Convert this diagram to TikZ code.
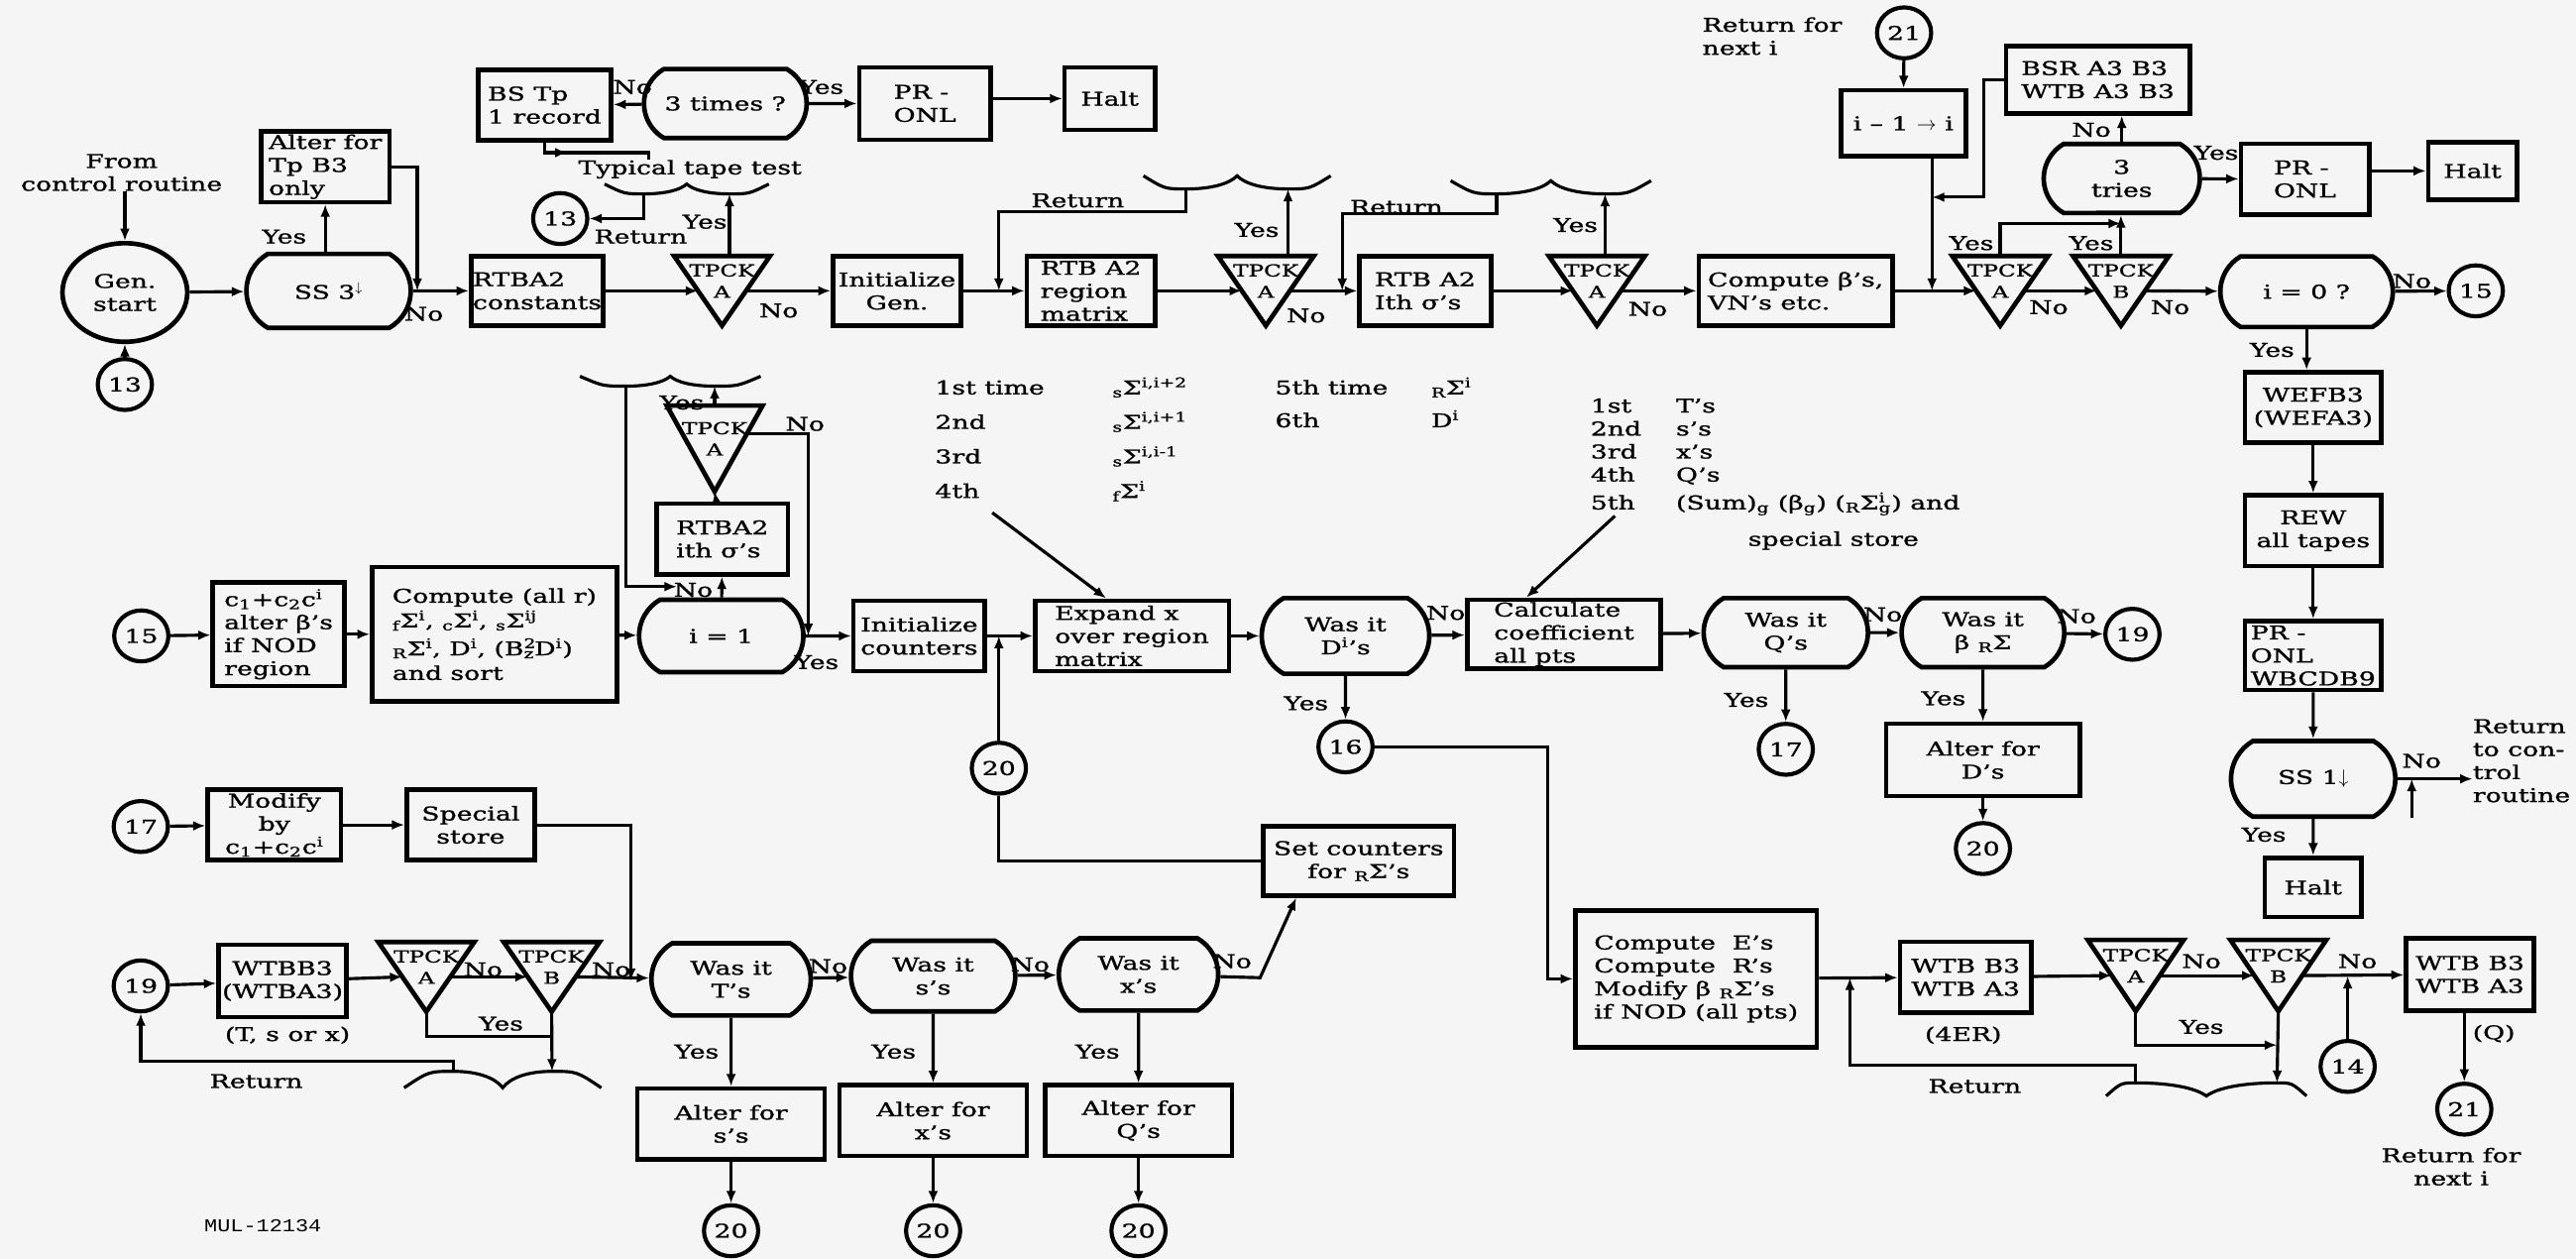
\documentclass[tikz,border=0pt]{standalone}
\usepackage{fontspec}
\setmainfont[FakeStretch=1.4, FakeBold=1.2]{DejaVu Serif}
\newfontfamily\mulfont[FakeStretch=1.2]{Liberation Mono}
\usetikzlibrary{arrows.meta, shapes.geometric, shapes.misc, calc, decorations.markings}

% brace: cusp x, cusp y, half width, end length, depth, name
\newcommand{\brc}[6]{%
	\draw[wire] ({#1-#3-#4},#2) .. controls ({#1-#3-0.5*#4},{#2+(#5)}) .. ({#1-#3},{#2+(#5)}) .. controls ({#1-0.5*#3},{#2+(#5)}) and ({#1-0.15*#3},{#2+0.6*(#5)}) .. (#1,#2) .. controls ({#1+0.15*#3},{#2+0.6*(#5)}) and ({#1+0.5*#3},{#2+(#5)}) .. ({#1+#3},{#2+(#5)}) .. controls ({#1+#3+0.5*#4},{#2+(#5)}) .. ({#1+#3+#4},#2);
	\coordinate (#6l) at ({#1-#3},{#2+(#5)});
	\coordinate (#6r) at ({#1+#3},{#2+(#5)});
}
% sub- and superscript after a letter
\newcommand{\subsup}[2]{\rlap{\textsuperscript{#2}}\textsubscript{#1}}

\begin{document}
\begin{tikzpicture}[x=1pt, y=-1pt, font=\fontsize{11.5}{14}\selectfont,
	wire/.style={line width=1.9pt},
	arr/.style={wire, -{Latex[length=7.5pt,width=6pt]}},
	midarr/.style={wire, postaction={decorate}, decoration={markings, mark=at position #1 with {\arrow{Latex[length=7.5pt,width=6pt]}}}},
	box/.style 2 args={shape=rectangle, draw, line width=2.8pt, minimum width=#1, minimum height=#2, inner sep=1pt, align=center},
	boxl/.style 2 args={box={#1}{#2}, align=left},
	dec/.style 2 args={shape=rounded rectangle, rounded rectangle arc length=120, draw, line width=2.8pt, minimum width=#1, minimum height=#2, inner xsep=-6pt, inner ysep=1pt, align=center},
	conn/.style={shape=ellipse, draw, line width=2.5pt, minimum width=33, minimum height=31, inner sep=0pt},
	tpck/.style={shape=rectangle, minimum width=58, inner sep=0pt},
	tlbl/.style={inner sep=0pt, align=center, font=\fontsize{10}{13}\selectfont},
	lbl/.style={inner sep=0pt},
	txt/.style={inner sep=0pt, align=left}]
	\useasboundingbox (0,0) rectangle (1568,766);
	\fill[black!4] (0,0) rectangle (1568,766);

	% Paths, nodes and wires:
	\node[txt, align=center] (lfrom) at (74,105) {From\\control routine};
	\node[shape=ellipse, draw, line width=2.8pt, minimum width=76, minimum height=60, inner sep=0pt, align=center] (gen) at (76,178) {Gen.\\start};
	\node[conn] (c13a) at (76,234) {13};
	\node[dec={88}{45}] (ss3) at (200,177) {SS 3\textsuperscript{$\downarrow$}};
	\node[boxl={78}{43}] (altb) at (198,101.5) {Alter for\\Tp B3\\only};
	\node[boxl={80}{42}] (rtbc) at (327,177) {RTBA2\\constants};
	\node[boxl={81}{43}] (bstp) at (331.5,64) {BS Tp\\1 record};
	\node[dec={87}{42}] (three) at (441.5,63) {3 times ?};
	\node[boxl={80}{44}] (pronla) at (563,63) {PR -\\ONL};
	\node[box={55}{38}] (halta) at (675.5,60) {Halt};
	\node[txt] (ltape) at (420,103) {Typical tape test};
	\node[conn] (c13b) at (341,133) {13};
	\node[box={78}{42}] (initg) at (546,177) {Initialize\\Gen.};
	\node[boxl={78}{42}] (region) at (664,177) {RTB A2\\region\\matrix};
	\node[boxl={80}{42}] (ithA) at (867.5,177) {RTB A2\\Ith σ's};
	\node[boxl={118}{42}] (compb) at (1093,177) {Compute β's,\\VN's etc.};
	\node[dec={93}{43}] (izero) at (1404,177.5) {i = 0 ?};
	\node[conn] (c15b) at (1507,177) {15};
	\node[txt, anchor=west] (lnexta) at (1036,22) {Return for\\next i};
	\node[conn] (c21a) at (1159,20) {21};
	\node[box={76}{40}] (imone) at (1158.5,75) {i -- 1 $\rightarrow$ i};
	\node[boxl={112}{41}] (bsr) at (1277,48.5) {BSR A3 B3\\WTB A3 B3};
	\node[dec={83}{42}] (tries) at (1291.5,108.6) {3\\tries};
	\node[boxl={78}{43}] (pronlb) at (1403,109) {PR -\\ONL};
	\node[box={54}{35}] (haltb) at (1505,104) {Halt};
	\node[box={83}{43}] (wefb) at (1408,248) {WEFB3\\(WEFA3)};
	\node[box={83}{43}] (rew) at (1408,323) {REW\\all tapes};
	\node[boxl={83}{42}] (pronlc) at (1408,399) {PR -\\ONL\\WBCDB9};
	\node[dec={88}{46}] (ssone) at (1408,474) {SS 1$\downarrow$};
	\node[txt, anchor=west] (lctl) at (1505,463) {Return\\to con-\\trol\\routine};
	\node[box={59}{36}] (haltc) at (1408,540) {Halt};

	\node[conn] (c15a) at (86,387) {15};
	\node[boxl={80}{63}] (calt) at (169.6,386) {c\textsubscript{1}+c\textsubscript{2}c\textsuperscript{i}\\alter β's\\if NOD\\region};
	\node[boxl={149}{82}] (compr) at (301,386) {Compute (all r)\\[1pt]\textsubscript{f}Σ\textsuperscript{i}, \textsubscript{c}Σ\textsuperscript{i}, \textsubscript{s}Σ\textsuperscript{ij}\\[3pt]\textsubscript{R}Σ\textsuperscript{i}, D\textsuperscript{i}, (B\subsup{z}{2}D\textsuperscript{i})\\[1pt]and sort};
	\node[dec={88}{44}] (ione) at (439,387) {i = 1};
	\node[boxl={80}{43}] (ithB) at (439.7,328) {RTBA2\\ith σ's};
	\node[box={80}{43}] (initc) at (559.5,387) {Initialize\\counters};
	\node[boxl={118}{43}] (expand) at (689,387) {Expand x\\over region\\matrix};
	\node[dec={90}{46}] (wasd) at (819,387) {Was it\\D\textsuperscript{i}'s};
	\node[boxl={118}{42}] (calcco) at (952,386) {Calculate\\coefficient\\all pts};
	\node[dec={88}{42}] (wasq) at (1087,385) {Was it\\Q's};
	\node[dec={87}{42}] (wasb) at (1207,385) {Was it\\β \textsubscript{R}Σ};
	\node[conn] (c19b) at (1298,386) {19};
	\node[conn] (c16) at (819,454.5) {16};
	\node[conn] (c17b) at (1087,456) {17};
	\node[box={118}{44}] (altd) at (1207,462.5) {Alter for\\D's};
	\node[conn] (c20e) at (1207,516.4) {20};
	\node[conn] (c20a) at (608,467.5) {20};
	\node[box={116}{42}] (setc) at (827,524) {Set counters\\for \textsubscript{R}Σ's};

	\node[conn] (c17a) at (85.7,503) {17};
	\node[box={81}{43}] (modify) at (167,502) {Modify\\by\\c\textsubscript{1}+c\textsubscript{2}c\textsuperscript{i}};
	\node[box={78}{43}] (special) at (286.5,502) {Special\\store};
	\node[conn] (c19a) at (85.7,600) {19};
	\node[box={78}{44}] (wtbb) at (172,597) {WTBB3\\(WTBA3)};
	\node[txt] (ltsx) at (175,630) {(T, s or x)};
	\node[dec={85}{44}] (wast) at (445,596) {Was it\\T's};
	\node[dec={88}{43}] (wass) at (568,594) {Was it\\s's};
	\node[dec={85}{44}] (wasx) at (693,593) {Was it\\x's};
	\node[box={114}{43}] (alts) at (445,684) {Alter for\\s's};
	\node[box={114}{43}] (altx) at (568,682) {Alter for\\x's};
	\node[box={114}{43}] (altq) at (693,682) {Alter for\\Q's};
	\node[conn] (c20b) at (445,749) {20};
	\node[conn] (c20c) at (568,749) {20};
	\node[conn] (c20d) at (693,749) {20};
	\node[txt] (lmul) at (160,746) {\mulfont\fontsize{11}{13}\selectfont MUL-12134};
	\node[boxl={147}{83}] (compe) at (1032.4,595.7) {Compute\ \ E's\\Compute\ \ R's\\Modify β \textsubscript{R}Σ's\\if NOD (all pts)};
	\node[box={80}{43}] (wtba) at (1196.5,594.7) {WTB B3\\WTB A3};
	\node[txt] (l4er) at (1195,630) {(4ER)};
	\node[conn] (c14) at (1429,649) {14};
	\node[box={78}{44}] (wtbc) at (1503.5,593) {WTB B3\\WTB A3};
	\node[txt] (lq) at (1518,629) {(Q)};
	\node[conn] (c21b) at (1500,675) {21};
	\node[txt, align=center] (lnextb) at (1492,710) {Return for\\next i};

	\foreach \nn/\px/\py/\ph/\pl in {t1/439.5/177/42/A, t2/770.5/177/42/A, t3/972/177/42/A, t4/1217.5/177/42/A, t5/1291/177/42/B, t6/435/273/52/A, t7/259.5/594.5/42/A, t8/335.8/594.5/42/B, t9/1300/593.7/43/A, t10/1386.8/593.7/43/B}{
		\node[tpck, minimum height=\ph] (\nn) at (\px,\py) {};
		\draw[line width=2.8pt] (\nn.north west) -- (\nn.north east) -- (\nn.south) -- cycle;
		\node[tlbl] (\nn-l) at ($(\nn.center)+(0,-6)$) {TPCK\\\pl};
		\coordinate (\nn-in) at ($(\nn.west)!.5!(\nn.center)$);
		\coordinate (\nn-out) at ($(\nn.east)!.5!(\nn.center)$);
	}

	\foreach \ty/\ta/\tb [count=\ti] in {240/1st time/{\textsubscript{s}Σ\textsuperscript{i,i+2}}, 261/2nd/{\textsubscript{s}Σ\textsuperscript{i,i+1}}, 282/3rd/{\textsubscript{s}Σ\textsuperscript{i,i-1}}, 303/4th/{\textsubscript{f}Σ\textsuperscript{i}}}{
		\node[txt, anchor=base west] (ta\ti) at (569,\ty) {\ta};
		\node[txt, anchor=base west] (tb\ti) at (677,\ty) {\tb};
	}
	\node[txt, anchor=base west] (tc1) at (776,240) {5th time};
	\node[txt, anchor=base west] (tc2) at (776,260) {6th};
	\node[txt, anchor=base west] (td1) at (871,240) {\textsubscript{R}Σ\textsuperscript{i}};
	\node[txt, anchor=base west] (td2) at (871,260) {D\textsuperscript{i}};
	\foreach \ty/\ta/\tb [count=\ti] in {251/1st/T's, 265/2nd/s's, 279/3rd/x's, 293/4th/Q's, 310/5th/{(Sum)\textsubscript{g} (β\textsubscript{g}) (\textsubscript{R}Σ\subsup{g}{i}) and}}{
		\node[txt, anchor=base west] (te\ti) at (968,\ty) {\ta};
		\node[txt, anchor=base west] (tf\ti) at (1020,\ty) {\tb};
	}
	\node[txt] (tspec) at (1116,329) {special store};

	\foreach \lx/\ly/\lt [count=\li] in {173/144/Yes, 258/191/No, 429/135/Yes, 474/189/No, 385/53/No, 500/53/Yes, 390/144/Return, 656/122/Return, 765/140/Yes, 795/192/No, 850/126/Return, 959/137/Yes, 1003/188/No, 1200/148/Yes, 1247/187/No, 1273/148/Yes, 1321/187/No, 1273/79/No, 1349/93/Yes, 1468/171/No, 1383/213/Yes, 1474/463/No, 1378/508/Yes, 415/245/Yes, 490/258/No, 422/359/No, 497/403/Yes, 880/373/No, 795/428/Yes, 1063/426/Yes, 1146/374/No, 1264/375/No, 1183/425/Yes, 294/590/No, 372/590/No, 305/623/Yes, 156/658/Return, 504/588/No, 424/640/Yes, 627/587/No, 544/640/Yes, 750/585/No, 668/640/Yes, 1340/585/No, 1435/585/No, 1340/625/Yes, 1202/661/Return}
		\node[lbl] (lab\li) at (\lx,\ly) {\lt};

	\brc{418}{112}{26}{24}{6}{brA}
	\brc{753}{107}{31}{26}{8}{brB}
	\brc{944}{110}{33}{28}{8}{brC}
	\brc{408}{229}{27}{28}{6}{brD}
	\brc{306}{662}{30}{30}{-10}{brE}
	\brc{1343}{667}{43}{18}{-8}{brF}

	\coordinate (jA) at (254,177);
	\coordinate (jB) at (395,97);
	\coordinate (jC) at (608,177);
	\coordinate (jD) at (817,177);
	\coordinate (jE) at (1176,177);
	\coordinate (jF) at (1176,120);
	\coordinate (jG) at (1291,136);
	\coordinate (jH) at (1468,498);
	\coordinate (jI) at (412,357);
	\coordinate (jJ) at (492,387);
	\coordinate (jK) at (608,387);
	\coordinate (jL) at (604,312);
	\coordinate (jM) at (983,314);
	\coordinate (jN) at (942,454.5);
	\coordinate (jO) at (384,597);
	\coordinate (jP) at (336,631);
	\coordinate (jQ) at (767,595);
	\coordinate (jR) at (1126,595);
	\coordinate (jS) at (1429,594);
	\coordinate (jT) at (1386,636);

	\draw[arr] (gen.north |- lfrom.south) -- (gen.north);
	\draw[arr] (c13a) -- (gen);
	\draw[arr] (gen) -- (ss3);
	\draw[arr] (ss3.north -| altb) -- (altb.south);
	\draw[arr] (altb.east) -| (jA);
	\draw[arr] (ss3) -- (rtbc);
	\draw[arr] (rtbc) -- (t1-in);
	\draw[arr] (t1-out) -- (initg);
	\draw[arr] (t1.north -| brAr) -- (brAr);
	\draw[arr] (brAl) |- (c13b);
	\draw[midarr=0.27] (bstp.south) -- ++(0,6) -| (jB);
	\draw[arr] (three) -- (bstp);
	\draw[arr] (three) -- (pronla);
	\draw[arr] (pronla.east |- halta) -- (halta);
	\draw[arr] (initg) -- (region);
	\draw[arr] (brBl) -- ++(0,14) -| (jC);
	\draw[arr] (region) -- (t2-in);
	\draw[arr] (t2-out) -- (ithA);
	\draw[arr] (t2.north -| brBr) -- (brBr);
	\draw[arr] (brCl) -- ++(0,12) -| (jD);
	\draw[arr] (ithA) -- (t3-in);
	\draw[arr] (t3-out) -- (compb);
	\draw[arr] (t3.north -| brCr) -- (brCr);
	\draw[arr] (compb) -- (t4-in);
	\draw[arr] (c21a) -- (imone);
	\draw[arr] (imone.south -| jE) -- (jE);
	\draw[arr] (bsr.west) -- ++(-12,0) |- (jF);
	\draw[arr] (tries.north) -- (tries.north |- bsr.south);
	\draw[arr] (tries) -- (pronlb);
	\draw[arr] (pronlb.east |- haltb) -- (haltb);
	\draw[arr] (t4-out) -- (t5-in);
	\draw[arr] (t4.north) |- (jG);
	\draw[arr] (t5.north) -- (t5.north |- tries.south);
	\draw[arr] (t5-out) -- (izero);
	\draw[arr] (izero) -- (c15b);
	\draw[arr] (izero.south) -- (izero.south |- wefb.north);
	\draw[arr] (wefb) -- (rew);
	\draw[arr] (rew) -- (pronlc);
	\draw[arr] (pronlc) -- (ssone);
	\draw[arr] (ssone) -- (haltc);
	\draw[arr] (ssone.east) -- (ssone.east -| lctl.west);
	\draw[arr] (jH) -- (jH |- ssone.east);

	\draw[arr] (c15a) -- (calt);
	\draw[arr] (calt) -- (compr);
	\draw[arr] (compr) -- (ione);
	\draw[arr] (ione) -- (ithB);
	\draw[arr] (ithB) -- (t6.south);
	\draw[arr] (t6.north -| brDr) -- (brDr);
	\draw[arr] (brDl) |- (jI);
	\draw[arr] ($(t6.north east)!.33!(t6.south)$) -| (jJ);
	\draw[arr] (ione) -- (initc);
	\draw[arr] (initc) -- (expand);
	\draw[arr] (c20a) -- (jK);
	\draw[wire] (setc) -| (c20a);
	\draw[arr] (jL) -- ($(expand.north west)!.37!(expand.north east)$);
	\draw[arr] (expand) -- (wasd);
	\draw[arr] (wasd) -- (calcco);
	\draw[arr] (wasd) -- (c16);
	\draw[arr] (jM) -- ($(calcco.north west)!.31!(calcco.north east)$);
	\draw[arr] (calcco) -- (wasq);
	\draw[arr] (wasq) -- (c17b);
	\draw[arr] (wasq) -- (wasb);
	\draw[arr] (wasb) -- (c19b);
	\draw[arr] (wasb) -- (altd);
	\draw[arr] (altd) -- (c20e);
	\draw[arr] (c16) -- (jN) |- (compe);

	\draw[arr] (c17a) -- (modify);
	\draw[arr] (modify) -- (special);
	\draw[arr] (special) -| (jO);
	\draw[arr] (c19a) -- (wtbb);
	\draw[arr] (wtbb) -- (t7-in);
	\draw[arr] (t7-out) -- (t8-in);
	\draw[arr] (t8-out) -- (wast);
	\draw[wire] (t7.south) |- (jP);
	\draw[arr] (t8.south) -- (brEr);
	\draw[arr] (brEl) -- ++(0,-6) -| (c19a);
	\draw[arr] (wast) -- (wass);
	\draw[arr] (wass) -- (wasx);
	\draw[arr] (wast) -- (alts);
	\draw[arr] (wass) -- (altx);
	\draw[arr] (wasx) -- (altq);
	\draw[arr] (alts) -- (c20b);
	\draw[arr] (altx) -- (c20c);
	\draw[arr] (altq) -- (c20d);
	\draw[arr] (wasx) -- (jQ) -- ($(setc.south west)!.18!(setc.south east)$);
	\draw[arr] (compe) -- (wtba);
	\draw[arr] (brFl) -- ++(0,-11) -| (jR);
	\draw[arr] (wtba) -- (t9-in);
	\draw[arr] (t9-out) -- (t10-in);
	\draw[arr] (t10-out) -- (wtbc);
	\draw[arr] (c14) -- (jS);
	\draw[arr] (t9.south) |- (jT);
	\draw[arr] (t10.south) -- (brFr);
	\draw[arr] (c21b.north |- wtbc.south) -- (c21b);
\end{tikzpicture}
\end{document}
